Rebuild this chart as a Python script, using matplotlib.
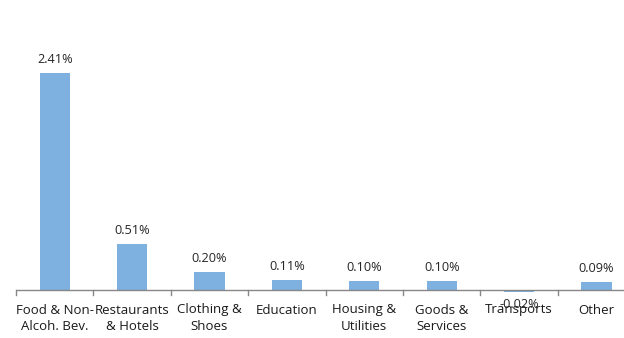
import matplotlib
matplotlib.use("Agg")
import matplotlib.pyplot as plt
import numpy as np

categories = ["Food & Non-\nAlcoh. Bev.", "Restaurants\n& Hotels", "Clothing &\nShoes",
              "Education", "Housing &\nUtilities", "Goods &\nServices", "Transports", "Other"]
values = [2.41, 0.51, 0.20, 0.11, 0.10, 0.10, -0.02, 0.09]
value_labels = ["2.41%", "0.51%", "0.20%", "0.11%", "0.10%", "0.10%", "-0.02%", "0.09%"]

W, H = 624, 338
fig = plt.figure(figsize=(W/100, H/100), dpi=100)
ppu = 90.0
y0 = 290
ylo, yhi = -0.2, 2.8
bottom_px = y0 + (-ylo)*ppu
top_px = y0 - yhi*ppu
left_px = 16
step = 77.4
ax = fig.add_axes([left_px/W, (H-bottom_px)/H, 8*step/W, (bottom_px-top_px)/H])
x = np.arange(len(categories))
ax.bar(x, values, width=0.39, color="#7EB0E0", zorder=2)
ax.set_xlim(-0.5, len(categories)-0.5)
ax.set_ylim(ylo, yhi)
for s in ["top", "right", "left", "bottom"]:
    ax.spines[s].set_visible(False)
ax.axhline(0, color="#878787", lw=1.0, zorder=3)
ax.set_yticks([])
ax.set_xticks([])
# tick marks at boundaries
for b in np.arange(-0.5, len(categories)+0.5, 1):
    ax.plot([b, b], [0, -5/ppu], color="#878787", lw=1.0, clip_on=False, zorder=3)
font = "Open Sans"
for i, (c, v, lab) in enumerate(zip(categories, values, value_labels)):
    ax.text(i, -13.5/ppu, c, ha="center", va="top", fontsize=9.5, color="#1a1a1a",
            family=font, linespacing=1.32)
    if v >= 0:
        ax.text(i, v + 7/ppu, lab, ha="center", va="bottom", fontsize=9.2, color="#262626", family=font)
    else:
        ax.text(i, v - 6/ppu, lab, ha="center", va="top", fontsize=9.2, color="#262626", family=font)
fig.savefig("out.png", dpi=100)
